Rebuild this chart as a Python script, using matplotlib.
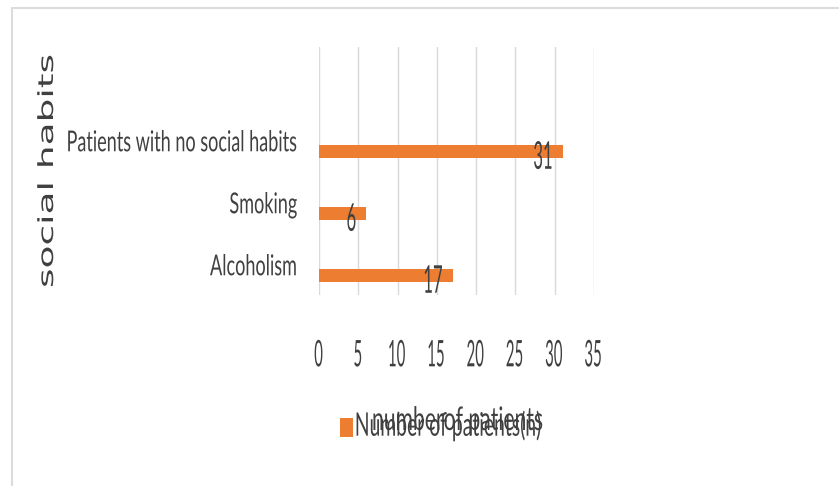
import matplotlib
matplotlib.use("Agg")
import matplotlib.pyplot as plt
import matplotlib.patheffects as pe
from matplotlib.transforms import Affine2D
from matplotlib.patches import Rectangle

# data
habits = ["Alcoholism", "Smoking", "Patients with no social habits"]
patients = [17, 6, 31]
x_ticks = [0, 5, 10, 15, 20, 25, 30, 35]

bar_color = "#ED7D31"
text_color = "#404040"
font = ["Lato", "DejaVu Sans"]


# stretch the glyphs (the original picture is squashed sideways), dy = shift in pixels
class Stretch(pe.AbstractPathEffect):
    def __init__(self, sx=1.0, sy=1.0, dx=0, dy=0):
        super().__init__()
        self.sx = sx
        self.sy = sy
        self.dx = dx
        self.dy = dy

    def draw_path(self, renderer, gc, tpath, affine, rgbFace=None):
        tr = Affine2D().scale(self.sx, self.sy) + affine + Affine2D().translate(self.dx, self.dy)
        renderer.draw_path(gc, tpath, tr, rgbFace)


fig = plt.figure(figsize=(8.39, 4.86), dpi=100)
ax = fig.add_axes([319 / 839, 1 - 295 / 486, 275 / 839, 248 / 486])

ypos = list(range(len(habits)))
bars = ax.barh(ypos, patients, height=0.21, color=bar_color, label="Number of patients(n)", zorder=3)

ax.set_xlim(0, 35)
ax.set_ylim(-0.31, 3.69)
ax.set_xticks(x_ticks)
ax.set_xticklabels([str(v) for v in x_ticks])
ax.set_yticks(ypos)
ax.set_yticklabels(habits)
ax.grid(axis="x", color="#d9d9d9", linewidth=1, zorder=0)
ax.tick_params(length=0)
ax.tick_params(axis="y", pad=16)
ax.tick_params(axis="x", pad=42)
for s in ax.spines.values():
    s.set_visible(False)

for lbl in ax.get_yticklabels():
    lbl.set_family(font)
    lbl.set_fontsize(13)
    lbl.set_color(text_color)
    lbl.set_path_effects([Stretch(1.0, 1.6, dy=7)])
for lbl in ax.get_xticklabels():
    lbl.set_family(font)
    lbl.set_fontsize(12)
    lbl.set_color(text_color)
    lbl.set_path_effects([Stretch(0.9, 2.2)])

# value labels at the bar ends
for bar, v in zip(bars, patients):
    ax.annotate(str(v), (v, bar.get_y() + bar.get_height() / 2),
                xytext=(-10, -17), textcoords="offset pixels",
                ha="right", va="baseline", fontsize=12, family=font, color=text_color,
                path_effects=[Stretch(1.0, 2.3)], zorder=4)

# axis titles
ax.set_xlabel("numberof patients", fontsize=13, family=font, color=text_color,
              ha="left", va="baseline", path_effects=[Stretch(1.17, 1.8)])
ax.xaxis.set_label_coords(53 / 275, -135 / 248)

fig.text(53 / 839, 1 - 288 / 486, "social habits", rotation=90, rotation_mode="anchor",
         ha="left", va="baseline", fontsize=15, family="DejaVu Sans", color=text_color,
         path_effects=[Stretch(1.8, 1.0)])

leg = ax.legend(loc="lower left", bbox_to_anchor=(340 / 839, 1 - 437 / 486),
                bbox_transform=fig.transFigure, frameon=False, fontsize=13,
                handleheight=1.22, handlelength=0.72, handletextpad=0.1,
                borderpad=0, borderaxespad=0)
for t in leg.get_texts():
    t.set_family(font)
    t.set_color(text_color)
    t.set_path_effects([Stretch(1.07, 1.8, dy=-2)])

# light frame of the chart area
fig.patches.append(Rectangle((12 / 839, -0.1), 1.2, 1 - 8 / 486 + 0.1, transform=fig.transFigure,
                             fill=False, edgecolor="#dcdcdc", linewidth=1.5))

fig.savefig("out.png", dpi=100)
